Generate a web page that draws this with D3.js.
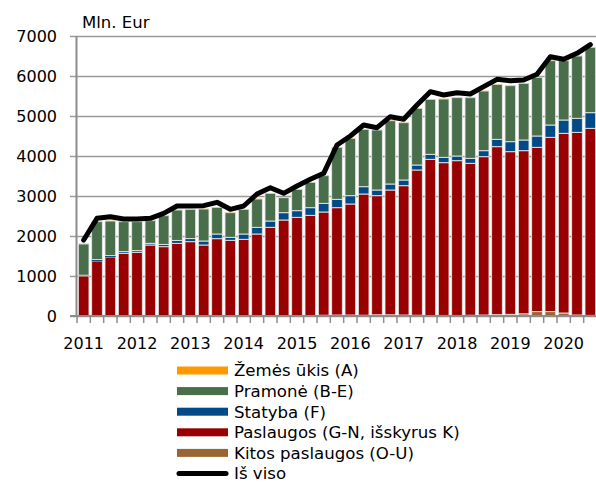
<!DOCTYPE html>
<html>
<head>
<meta charset="utf-8">
<script src="https://cdn.jsdelivr.net/npm/d3@7"></script>
<style>
  body { margin: 0; background: #fff; }
  svg text { font-family: "DejaVu Sans", Verdana, sans-serif; font-size: 16px; fill: #000; }
</style>
</head>
<body>
<svg id="chart" width="596" height="484"></svg>
<script>
// quarters 2011Q1 .. 2020Q3
var quarters = [];
for (var yr = 2011; yr <= 2020; yr++) {
  for (var q = 1; q <= 4; q++) {
    if (yr === 2020 && q > 3) break;
    quarters.push(yr + "Q" + q);
  }
}
var yearLabels = ["2011", "2012", "2013", "2014", "2015", "2016", "2017", "2018", "2019", "2020"];
var yTicks = [0, 1000, 2000, 3000, 4000, 5000, 6000, 7000];

// Mln. Eur
var zemes = [5, 5, 5, 5, 5, 5, 5, 5, 5, 5, 5, 5, 5, 5, 5, 5, 5, 5, 5, 5,
  5, 5, 5, 5, 5, 5, 5, 5, 5, 5, 5, 5, 5, 5, 5, 5, 5, 5, 5];
var pramone = [780, 948, 865, 748, 723, 566, 718, 760, 732, 800, 667, 616, 617, 708, 692, 375, 534, 634, 691, 1300,
  1434, 1434, 1500, 1583, 1433, 1417, 1375, 1458, 1458, 1516, 1492, 1375, 1400, 1417, 1467, 1608, 1483, 1558, 1634];
var statyba = [20, 35, 35, 43, 43, 42, 57, 73, 77, 100, 117, 75, 133, 167, 158, 183, 166, 191, 217, 209,
  208, 183, 142, 150, 142, 125, 125, 134, 117, 125, 150, 184, 250, 267, 283, 308, 333, 350, 391];
var paslaugos = [990, 1365, 1465, 1557, 1582, 1765, 1723, 1807, 1848, 1765, 1923, 1882, 1907, 2040, 2205, 2388, 2455, 2502, 2580, 2683,
  2775, 3030, 2978, 3120, 3233, 3630, 3902, 3818, 3868, 3797, 3958, 4200, 4066, 4078, 4107, 4357, 4492, 4567, 4675];
var kitos = [10, 10, 10, 10, 10, 10, 10, 10, 10, 10, 10, 10, 10, 10, 12, 12, 12, 15, 20, 25,
  25, 20, 30, 30, 25, 20, 15, 15, 15, 20, 25, 33, 42, 55, 110, 110, 75, 25, 17];
var isViso = [1900, 2442, 2483, 2425, 2425, 2442, 2567, 2750, 2750, 2758, 2842, 2667, 2750, 3050, 3208, 3067, 3250, 3417, 3567, 4275,
  4500, 4775, 4708, 4983, 4917, 5275, 5608, 5525, 5583, 5550, 5733, 5917, 5883, 5900, 6042, 6483, 6417, 6567, 6783];

var series = [
  {key: "kitos", name: "Kitos paslaugos (O-U)", color: "#996633"},
  {key: "paslaugos", name: "Paslaugos (G-N, išskyrus K)", color: "#990000"},
  {key: "statyba", name: "Statyba (F)", color: "#004b87"},
  {key: "pramone", name: "Pramonė (B-E)", color: "#486e4a"},
  {key: "zemes", name: "Žemės ūkis (A)", color: "#ff9900"}
];

var rows = quarters.map(function(q, i) {
  return {q: q, kitos: kitos[i], paslaugos: paslaugos[i], statyba: statyba[i],
    pramone: pramone[i], zemes: zemes[i], total: isViso[i]};
});

var svg = d3.select("#chart");

var x = d3.scaleBand().domain(quarters).range([77, 597]).paddingInner(0.2).paddingOuter(0.1);
var y = d3.scaleLinear().domain([0, 7000]).range([316, 36]);

// gridlines + y labels
var yAxis = svg.append("g")
    .attr("transform", "translate(70,0)")
    .call(d3.axisLeft(y).tickValues(yTicks).tickSize(-527).tickPadding(13).tickFormat(d3.format("d")));
yAxis.select(".domain").remove();
yAxis.selectAll(".tick line").attr("stroke", "#9a9a9a").attr("stroke-width", 1.5);
yAxis.selectAll(".tick text").style("font-size", "16px").attr("fill", "#000");

// y axis line
svg.append("line")
    .attr("x1", 76.5).attr("x2", 76.5)
    .attr("y1", y(7000)).attr("y2", y(0) + 1)
    .attr("stroke", "#8c8c8c").attr("stroke-width", 2);

// stacked bars
var stack = d3.stack().keys(series.map(function(s) { return s.key; }));
var layers = stack(rows);

svg.append("g").selectAll("g")
    .data(layers)
  .enter().append("g")
    .attr("fill", function(d, i) { return series[i].color; })
  .selectAll("rect")
    .data(function(d) { return d; })
  .enter().append("rect")
    .attr("x", function(d) { return x(d.data.q); })
    .attr("width", x.bandwidth())
    .attr("y", function(d) { return y(d[1]); })
    .attr("height", function(d) { return Math.max(0, y(d[0]) - y(d[1])); })
    .attr("stroke", function(d) { return (y(d[0]) - y(d[1])) > 1.5 ? "#e6e6e6" : "none"; })
    .attr("stroke-width", 0.9);

// x axis baseline and category ticks
svg.append("line")
    .attr("x1", 70).attr("x2", 597)
    .attr("y1", y(0)).attr("y2", y(0))
    .attr("stroke", "#8c8c8c").attr("stroke-width", 2);

var edges = quarters.map(function(q) { return x(q) - x.step() * x.paddingInner() / 2; });
edges.push(x(quarters[quarters.length - 1]) + x.bandwidth() + x.step() * x.paddingInner() / 2);
svg.append("g").selectAll("line")
    .data(edges)
  .enter().append("line")
    .attr("x1", function(d) { return d; }).attr("x2", function(d) { return d; })
    .attr("y1", y(0)).attr("y2", y(0) + 7)
    .attr("stroke", "#8c8c8c").attr("stroke-width", 1.5);

// year labels centred on Q1 bars
svg.append("g").selectAll("text")
    .data(yearLabels)
  .enter().append("text")
    .attr("x", function(d) { return x(d + "Q1") + x.bandwidth() / 2; })
    .attr("y", 348.5)
    .attr("text-anchor", "middle")
    .text(function(d) { return d; });

// total line
var line = d3.line()
    .x(function(d) { return x(d.q) + x.bandwidth() / 2; })
    .y(function(d) { return y(d.total); });

svg.append("path")
    .datum(rows)
    .attr("d", line)
    .attr("fill", "none")
    .attr("stroke", "#000")
    .attr("stroke-width", 5)
    .attr("stroke-linejoin", "round")
    .attr("stroke-linecap", "round");

// unit label
svg.append("text").attr("x", 82).attr("y", 28).style("font-size", "16.5px").text("Mln. Eur");

// legend
var legendItems = series.slice().reverse().concat([{name: "Iš viso", color: "#000", line: true}]);
var legend = svg.append("g").selectAll("g")
    .data(legendItems)
  .enter().append("g")
    .attr("transform", function(d, i) { return "translate(177," + (370.5 + i * 20.6) + ")"; });

legend.filter(function(d) { return !d.line; }).append("rect")
    .attr("x", 0).attr("y", -4)
    .attr("width", 51).attr("height", 8)
    .attr("fill", function(d) { return d.color; });

legend.filter(function(d) { return d.line; }).append("line")
    .attr("x1", 2).attr("x2", 49)
    .attr("y1", 0).attr("y2", 0)
    .attr("stroke", "#000").attr("stroke-width", 5)
    .attr("stroke-linecap", "round");

legend.append("text")
    .attr("x", 57)
    .attr("dy", "0.35em")
    .style("font-size", "16.6px")
    .text(function(d) { return d.name; });
</script>
</body>
</html>
